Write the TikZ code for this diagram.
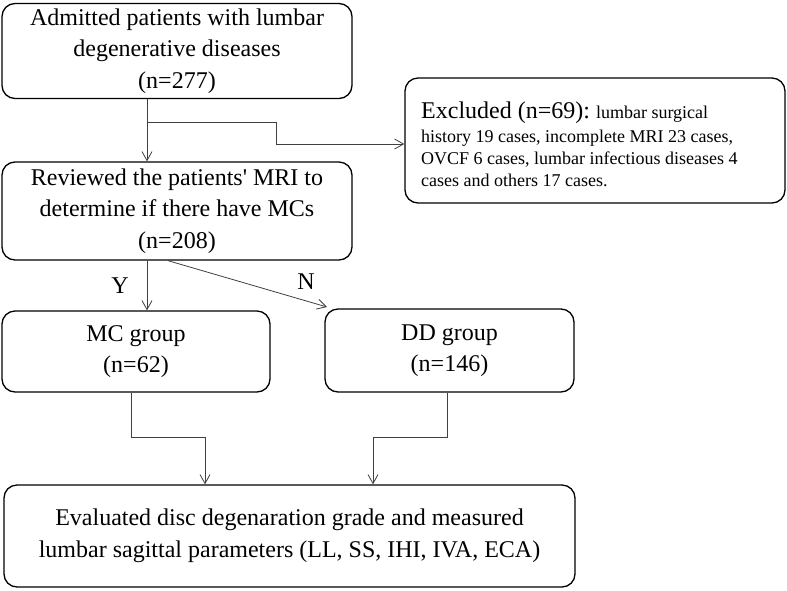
\documentclass[tikz,border=0pt]{standalone}
\usepackage{fontspec}
\setmainfont{Liberation Serif}
\usetikzlibrary{arrows.meta,calc}
\begin{document}
\begin{tikzpicture}[x=1pt,y=-1pt,
  box/.style={draw=black,line width=1.3pt,rounded corners=13pt,align=center,
    inner sep=0pt,font=\fontsize{24}{31.5}\selectfont},
  arr/.style={draw=black!75,line width=0.8pt,-{Straight Barb[length=9pt,width=10pt,line width=0.8pt]}},
  lab/.style={font=\fontsize{24}{28}\selectfont}]
\useasboundingbox (0,0) rectangle (787,590);
\node[box,minimum width=350pt,minimum height=95pt] (b1) at (177,51)
  {Admitted patients with lumbar\\degenerative diseases\\(n=277)};
\node[box,minimum width=350pt,minimum height=98pt] (b2) at (177,211)
  {Reviewed the patients\textquotesingle{} MRI to\\determine if there have MCs\\(n=208)};
\node[box,minimum width=380pt,minimum height=125pt] (ex) at (595,140.5) {};
\node[align=left,anchor=north west,inner sep=0pt,font=\fontsize{18}{22}\selectfont] (ext) at (421,102)
  {{\fontsize{24}{26}\selectfont Excluded (n=69):} lumbar surgical\\[2pt]
   history 19 cases, incomplete MRI 23 cases,\\
   OVCF 6 cases, lumbar infectious diseases 4\\
   cases and others 17 cases.};
\node[box,minimum width=268pt,minimum height=81pt] (mc) at (136,351.5)
  {MC group\\(n=62)};
\node[box,minimum width=249pt,minimum height=83pt] (dd) at (449.5,350.5)
  {DD group\\(n=146)};
\node[box,minimum width=571pt,minimum height=102pt] (ev) at (289.5,536)
  {Evaluated disc degenaration grade and measured\\lumbar sagittal parameters (LL, SS, IHI, IVA, ECA)};
\node[lab] (y) at (120,286) {Y};
\node[lab] (n) at (306,282) {N};
% coordinates
\coordinate (xa) at (147,0);
\coordinate (br) at (147,122);
\coordinate (bk) at (276,122);
\coordinate (bk2) at (276,144);
\coordinate (xn) at (168,0);
\coordinate (nt) at (327,307);
\coordinate (mcx) at (131,0);
\coordinate (mcj) at (131,437);
\coordinate (mca) at (205,437);
\coordinate (ddx) at (447,0);
\coordinate (ddj) at (447,437);
\coordinate (dda) at (373,437);
% connectors
\draw[arr] (b1.south -| xa) -- (b2.north -| xa);
\draw[arr] (br) -- (bk) -- (bk2) -- (ex.west |- bk2);
\draw[arr] (b2.south -| xa) -- (mc.north -| xa);
\draw[arr] (b2.south -| xn) -- (nt);
\draw[arr] (mc.south -| mcx) -- (mcj) -- (mca) -- (ev.north -| mca);
\draw[arr] (dd.south -| ddx) -- (ddj) -- (dda) -- (ev.north -| dda);
\end{tikzpicture}
\end{document}
